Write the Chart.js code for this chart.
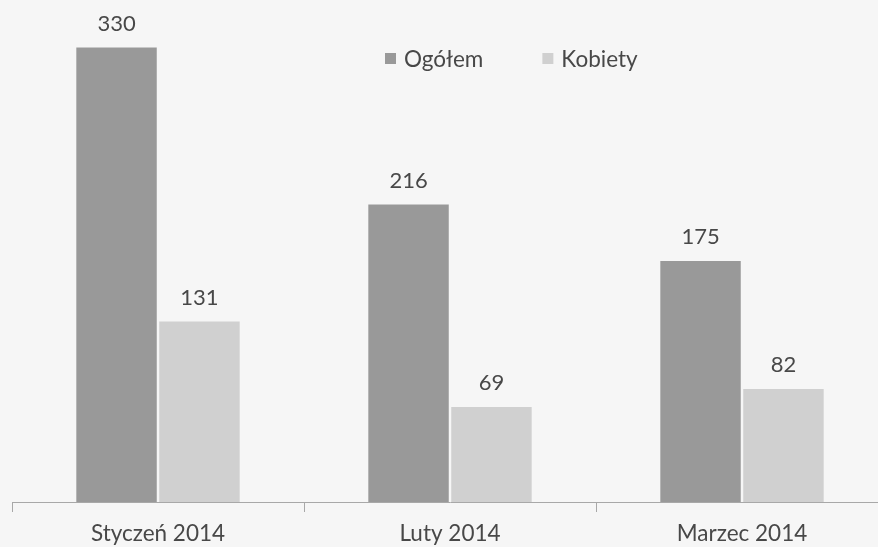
<!DOCTYPE html>
<html>
<head>
<meta charset="utf-8">
<script src="https://cdn.jsdelivr.net/npm/chart.js@4.4.1/dist/chart.umd.min.js"></script>
<style>
    html, body { margin: 0; padding: 0; background: #f6f6f6; overflow: hidden; }
    #wykres { display: block; }
</style>
</head>
<body>
<canvas id="wykres" width="900" height="547"></canvas>
<script>
// dane
var miesiace = ['Styczeń 2014', 'Luty 2014', 'Marzec 2014'];
var ogolem = [330, 216, 175];
var kobiety = [131, 69, 82];

var kolorTekstu = '#484848';
var czcionka = 'Lato, "Open Sans", sans-serif';

// etykiety z wartościami nad słupkami
var etykietyWartosci = {
    id: 'etykietyWartosci',
    afterDatasetsDraw: function (chart) {
        var ctx = chart.ctx;
        ctx.save();
        ctx.fillStyle = kolorTekstu;
        ctx.font = '22px ' + czcionka;
        ctx.textAlign = 'center';
        ctx.textBaseline = 'alphabetic';
        chart.data.datasets.forEach(function (ds, i) {
            var meta = chart.getDatasetMeta(i);
            meta.data.forEach(function (bar, j) {
                ctx.fillText(ds.data[j], bar.x, bar.y - 17);
            });
        });
        ctx.restore();
    }
};

// legenda w obszarze wykresu, przesunięta w prawo jak w oryginale
var legendaWewnatrz = {
    id: 'legendaWewnatrz',
    afterDraw: function (chart) {
        var ctx = chart.ctx;
        var area = chart.chartArea;
        var x = (area.left + area.right) / 2 - 65;
        var y = area.top + 38.5;
        ctx.save();
        ctx.font = '22.5px ' + czcionka;
        ctx.textBaseline = 'middle';
        ctx.textAlign = 'left';
        chart.data.datasets.forEach(function (ds) {
            ctx.fillStyle = ds.backgroundColor;
            ctx.fillRect(x, y - 5.5, 11, 11);
            ctx.fillStyle = kolorTekstu;
            ctx.fillText(ds.label, x + 19, y + 1);
            x += 19 + ctx.measureText(ds.label).width + 59;
        });
        ctx.restore();
    }
};

var dane = {
    labels: miesiace,
    datasets: [
        {
            label: 'Ogółem',
            data: ogolem,
            backgroundColor: '#999999',
            borderWidth: 0
        },
        {
            label: 'Kobiety',
            data: kobiety,
            backgroundColor: '#d0d0d0',
            borderWidth: 0
        }
    ]
};

var config = {
    type: 'bar',
    data: dane,
    options: {
        responsive: false,
        animation: false,
        categoryPercentage: 0.568,
        barPercentage: 0.97,
        layout: {
            padding: { left: 12, right: 12, top: 20, bottom: -8 }
        },
        plugins: {
            tooltip: { enabled: false },
            legend: { display: false }
        },
        scales: {
            x: {
                grid: {
                    display: true,
                    drawOnChartArea: false,
                    drawTicks: true,
                    tickLength: 10,
                    color: '#a8a8a8',
                    offset: true
                },
                border: { display: true, color: '#a8a8a8', width: 1 },
                ticks: {
                    color: kolorTekstu,
                    padding: 8,
                    font: { family: czcionka, size: 22.5 }
                }
            },
            y: {
                display: false,
                min: 0,
                max: 350
            }
        }
    },
    plugins: [etykietyWartosci, legendaWewnatrz]
};

var wykres = new Chart(document.getElementById('wykres'), config);
</script>
</body>
</html>
